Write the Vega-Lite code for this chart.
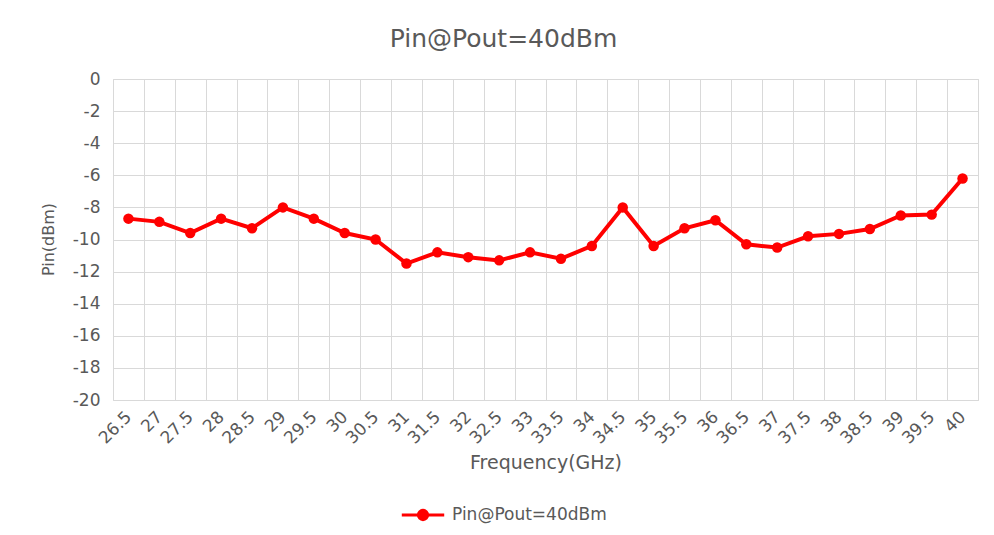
{
  "$schema": "https://vega.github.io/schema/vega-lite/v6.json",
  "autosize": {"type": "none"},
  "width": 865,
  "height": 321,
  "padding": {"left": 113, "top": 79, "right": 16, "bottom": 135},
  "background": "white",
  "config": {
    "font": "DejaVu Sans",
    "view": {"stroke": "#d9d9d9", "strokeWidth": 1}
  },
  "title": {
    "text": "Pin@Pout=40dBm",
    "font": "DejaVu Sans",
    "fontSize": 25,
    "fontWeight": "normal",
    "color": "#595959",
    "anchor": "middle",
    "dx": -42,
    "offset": 18
  },
  "data": {
    "values": [
      {"freq": "26.5", "pin": -8.7},
      {"freq": "27", "pin": -8.9},
      {"freq": "27.5", "pin": -9.6},
      {"freq": "28", "pin": -8.7},
      {"freq": "28.5", "pin": -9.3},
      {"freq": "29", "pin": -8.0},
      {"freq": "29.5", "pin": -8.7},
      {"freq": "30", "pin": -9.6},
      {"freq": "30.5", "pin": -10.0},
      {"freq": "31", "pin": -11.5},
      {"freq": "31.5", "pin": -10.8},
      {"freq": "32", "pin": -11.1},
      {"freq": "32.5", "pin": -11.3},
      {"freq": "33", "pin": -10.8},
      {"freq": "33.5", "pin": -11.2},
      {"freq": "34", "pin": -10.4},
      {"freq": "34.5", "pin": -8.0},
      {"freq": "35", "pin": -10.4},
      {"freq": "35.5", "pin": -9.3},
      {"freq": "36", "pin": -8.8},
      {"freq": "36.5", "pin": -10.3},
      {"freq": "37", "pin": -10.5},
      {"freq": "37.5", "pin": -9.8},
      {"freq": "38", "pin": -9.65},
      {"freq": "38.5", "pin": -9.35},
      {"freq": "39", "pin": -8.5},
      {"freq": "39.5", "pin": -8.45},
      {"freq": "40", "pin": -6.2}
    ]
  },
  "encoding": {
    "x": {
      "field": "freq",
      "type": "ordinal",
      "sort": null,
      "scale": {"paddingInner": 0, "paddingOuter": 0},
      "axis": {
        "title": "Frequency(GHz)",
        "titleFontSize": 19,
        "titleFontWeight": "normal",
        "titleColor": "#595959",
        "titleBaseline": "bottom",
        "titleY": 72,
        "labelAngle": -45,
        "labelAlign": "right",
        "labelBaseline": "middle",
        "labelFontSize": 17,
        "labelColor": "#595959",
        "labelPadding": 14,
        "tickBand": "extent",
        "grid": true,
        "gridColor": "#d9d9d9",
        "gridWidth": 1,
        "ticks": false,
        "domain": false
      }
    },
    "y": {
      "field": "pin",
      "type": "quantitative",
      "scale": {"domain": [-20, 0], "nice": false},
      "axis": {
        "title": "Pin(dBm)",
        "titleFontSize": 16,
        "titleFontWeight": "normal",
        "titleColor": "#595959",
        "titleX": -57,
        "titleY": 160,
        "titleAngle": -90,
        "titleAlign": "center",
        "titleBaseline": "bottom",
        "values": [0, -2, -4, -6, -8, -10, -12, -14, -16, -18, -20],
        "labelExpr": "'' + datum.value",
        "labelFontSize": 17,
        "labelColor": "#595959",
        "labelPadding": 13,
        "grid": true,
        "gridColor": "#d9d9d9",
        "gridWidth": 1,
        "ticks": false,
        "domain": false
      }
    },
    "color": {
      "datum": "Pin@Pout=40dBm",
      "scale": {"range": ["#ff0000"]},
      "legend": {
        "title": null,
        "orient": "none",
        "legendX": 287,
        "legendY": 413,
        "symbolType": "M-1,0H1M0.22,0A0.22,0.22,0,1,1,-0.22,0A0.22,0.22,0,1,1,0.22,0",
        "symbolSize": 1800,
        "symbolStrokeWidth": 3,
        "symbolFillColor": "#ff0000",
        "symbolStrokeColor": "#ff0000",
        "labelFontSize": 17,
        "labelColor": "#595959",
        "labelOffset": 6
      }
    }
  },
  "layer": [
    {"mark": {"type": "line", "strokeWidth": 4, "color": "#ff0000"}},
    {"mark": {"type": "point", "filled": true, "size": 110, "opacity": 1, "color": "#ff0000"}}
  ]
}
